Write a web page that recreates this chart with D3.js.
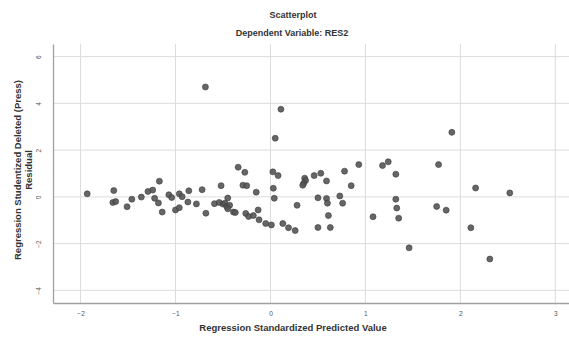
<!DOCTYPE html>
<html>
<head>
<meta charset="utf-8">
<script src="https://cdn.jsdelivr.net/npm/d3@7"></script>
<style>
  body { margin: 0; background: #fff; }
  svg { display: block; font-family: "Liberation Sans", Arial, sans-serif; }
</style>
</head>
<body>
<div id="chart"></div>
<script>
// Standardized predicted values (x) and studentized deleted residuals (y)
const predicted = [
  -1.93, -1.65, -1.66, -1.63, -1.51, -1.46, -1.36, -1.29, -1.24, -1.17,
  -1.22, -1.18, -1.14, -1.07, -1.04, -0.96, -0.93, -1.00, -0.96, -0.86,
  -0.87, -0.78, -0.72, -0.68, -0.685, -0.52, -0.59, -0.54, -0.50, -0.48,
  -0.46, -0.43, -0.45, -0.45, -0.39, -0.37, -0.34, -0.27, -0.29, -0.25,
  -0.15, -0.26, -0.23, -0.18, -0.13, -0.12, -0.05, 0.01, 0.025, 0.08,
  0.03, 0.04, 0.11, 0.05, 0.13, 0.19, 0.26, 0.28, 0.36, 0.37,
  0.35, 0.34, 0.46, 0.53, 0.59, 0.78, 0.93, 0.85, 1.18, 1.24,
  1.32, 1.77, 1.91, 0.50, 0.59, 0.60, 0.73, 0.76, 0.61, 0.50,
  0.63, 1.08, 1.32, 1.33, 1.35, 2.16, 2.52, 1.75, 1.85, 2.11,
  1.46, 2.31
];
const residual = [
  0.13, 0.27, -0.24, -0.20, -0.42, -0.10, -0.01, 0.23, 0.29, 0.67,
  -0.06, -0.26, -0.65, 0.09, -0.03, 0.13, 0.01, -0.56, -0.46, 0.26,
  -0.22, -0.30, 0.31, -0.70, 4.70, 0.48, -0.29, -0.24, -0.31, -0.27,
  -0.41, -0.36, -0.51, -0.05, -0.65, -0.67, 1.27, 1.05, 0.50, 0.48,
  0.20, -0.71, -0.84, -0.80, -0.56, -0.98, -1.14, -1.20, 1.07, 0.91,
  0.37, -0.06, 3.75, 2.51, -1.14, -1.32, -1.44, -0.36, 0.80, 0.70,
  0.58, 0.50, 0.91, 1.01, 0.68, 1.10, 1.38, 0.48, 1.34, 1.50,
  0.97, 1.38, 2.76, -0.04, -0.07, -0.27, 0.04, -0.27, -0.80, -1.31,
  -1.31, -0.85, -0.10, -0.48, -0.91, 0.38, 0.17, -0.41, -0.57, -1.32,
  -2.18, -2.66
];
const xTicks = [-2, -1, 0, 1, 2, 3];
const yTicks = [-4, -2, 0, 2, 4, 6];

const W = 569, H = 338;
const plot = { left: 53, right: 600, top: 44, bottom: 303 };

const svg = d3.select('#chart').append('svg')
  .attr('width', W).attr('height', H);

const x = d3.scaleLinear().domain([-2.29, 3.47]).range([plot.left, plot.right]);
const y = d3.scaleLinear().domain([-4.54, 6.54]).range([plot.bottom, plot.top]);

// gridlines
svg.append('g').selectAll('line').data(xTicks).join('line')
  .attr('x1', d => x(d)).attr('x2', d => x(d))
  .attr('y1', plot.top).attr('y2', plot.bottom)
  .attr('stroke', '#dcdcdc').attr('stroke-width', 1);
svg.append('g').selectAll('line').data(yTicks).join('line')
  .attr('x1', plot.left).attr('x2', plot.right)
  .attr('y1', d => y(d)).attr('y2', d => y(d))
  .attr('stroke', '#dcdcdc').attr('stroke-width', 1);

// axes
const fmt = d3.format('d');
const xAxis = svg.append('g')
  .attr('transform', `translate(0,${plot.bottom})`)
  .call(d3.axisBottom(x).tickValues(xTicks).tickFormat(fmt).tickSize(0).tickPadding(8));
const yAxis = svg.append('g')
  .attr('transform', `translate(${plot.left},0)`)
  .call(d3.axisLeft(y).tickValues(yTicks).tickFormat(fmt).tickSize(0).tickPadding(10));
[xAxis, yAxis].forEach(a => {
  a.select('.domain').attr('stroke', '#a0a0a0').attr('stroke-width', 1.3);
  a.selectAll('text').attr('font-size', 6.5).attr('fill', '#555')
    .attr('font-family', '"Liberation Sans", Arial, sans-serif');
});
yAxis.selectAll('.tick text')
  .attr('text-anchor', 'middle').attr('x', -12).attr('y', 0).attr('dy', 0)
  .attr('transform', 'rotate(-90,-12,0)');

// points
svg.append('g').selectAll('circle')
  .data(predicted.map((p, i) => [p, residual[i]]))
  .join('circle')
  .attr('cx', d => x(d[0]))
  .attr('cy', d => y(d[1]))
  .attr('r', 3)
  .attr('fill', '#555')
  .attr('fill-opacity', 0.9)
  .attr('stroke', '#3a3a3a')
  .attr('stroke-width', 0.6);

// titles
svg.append('text').attr('x', 293).attr('y', 18)
  .attr('text-anchor', 'middle').attr('font-size', 9).attr('font-weight', 'bold')
  .attr('fill', '#333').text('Scatterplot');
svg.append('text').attr('x', 292).attr('y', 36)
  .attr('text-anchor', 'middle').attr('font-size', 9).attr('font-weight', 'bold')
  .attr('fill', '#333').text('Dependent Variable: RES2');
svg.append('text').attr('x', 293).attr('y', 331)
  .attr('text-anchor', 'middle').attr('font-size', 9.5).attr('font-weight', 'bold')
  .attr('fill', '#333').text('Regression Standardized Predicted Value');

const yTitle = svg.append('text')
  .attr('transform', 'translate(21,170) rotate(-90)')
  .attr('text-anchor', 'middle').attr('font-size', 9.5).attr('font-weight', 'bold')
  .attr('fill', '#333');
yTitle.append('tspan').attr('x', 0).attr('dy', 0).text('Regression Studentized Deleted (Press)');
yTitle.append('tspan').attr('x', 0).attr('dy', 11).text('Residual');
</script>
</body>
</html>
